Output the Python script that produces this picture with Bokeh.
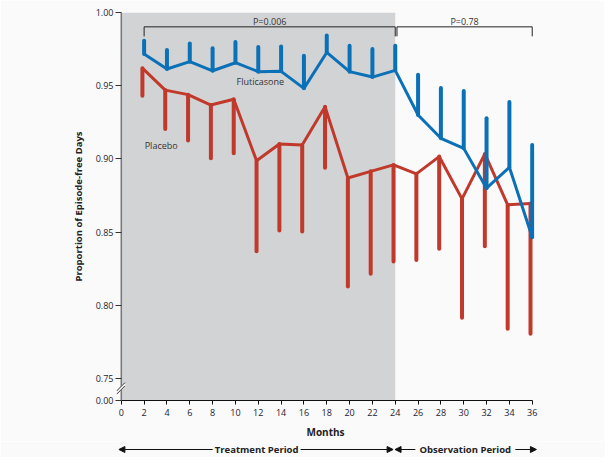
from bokeh.plotting import figure
from bokeh.layouts import column
from bokeh.models import (Range1d, FixedTicker, CustomJSTickFormatter, BoxAnnotation,
                          Arrow, NormalHead, ColumnDataSource)
from bokeh.transform import dodge
from bokeh.core.properties import value
from bokeh.embed import file_html
from bokeh.resources import INLINE

# ---------------- data ----------------
months = [2, 4, 6, 8, 10, 12, 14, 16, 18, 20, 22, 24, 26, 28, 30, 32, 34, 36]
flut_mean = [0.9716, 0.9614, 0.9664, 0.9602, 0.9657, 0.9596, 0.9598, 0.9482, 0.9727,
             0.9596, 0.9559, 0.9605, 0.9300, 0.9141, 0.9072, 0.8800, 0.8943, 0.8465]
flut_upper = [0.9807, 0.9744, 0.9789, 0.9755, 0.9798, 0.9764, 0.9768, 0.9705, 0.9843,
              0.9773, 0.9750, 0.9773, 0.9575, 0.9484, 0.9464, 0.9277, 0.9389, 0.9095]
plac_mean = [0.9620, 0.9470, 0.9439, 0.9368, 0.9407, 0.8988, 0.9102, 0.9095, 0.9357,
             0.8870, 0.8915, 0.8959, 0.8898, 0.9016, 0.8727, 0.9034, 0.8686, 0.8695]
plac_lower = [0.9432, 0.9205, 0.9125, 0.9004, 0.9038, 0.8370, 0.8511, 0.8504, 0.8939,
              0.8129, 0.8215, 0.8300, 0.8310, 0.8386, 0.7915, 0.8404, 0.7840, 0.7806]
x_ticks = list(range(0, 37, 2))
y_ticks = [0.735, 0.75, 0.80, 0.85, 0.90, 0.95, 1.00]   # 0.735 is the broken-axis "0.00"
treatment_end = 24
p_labels = ["P=0.006", "P=0.78"]
p_spans = [(2, 24), (24.15, 36)]
period_labels = ["Treatment Period", "Observation Period"]

BLUE = "#0a70b7"
RED = "#c0392b"
GRAY = "#d2d3d5"
BG = "#fafafa"
FONT = "Open Sans"
TXT = "#333333"

X0, X1 = -0.42, 36.2
Y0, Y1 = 0.735, 1.0
p = figure(frame_width=418, frame_height=388, x_range=Range1d(X0, X1),
           y_range=Range1d(Y0, Y1), output_backend="svg", toolbar_location=None,
           min_border_left=116, min_border_right=70, min_border_top=12, min_border_bottom=40,
           background_fill_color=BG, border_fill_color=BG)
p.outline_line_color = None
p.grid.visible = False

# shaded treatment period
p.add_layout(BoxAnnotation(left=0, right=treatment_end, fill_color=GRAY, fill_alpha=1.0,
                           line_color=None, level="underlay"))

# axes
xa = p.xaxis[0]
xa.ticker = FixedTicker(ticks=x_ticks, minor_ticks=[])
xa.bounds = (0, 36)
xa.axis_label = "Months"
xa.axis_label_text_font = FONT
xa.axis_label_text_font_style = "bold"
xa.axis_label_text_font_size = "10px"
xa.axis_label_text_color = "#222222"
xa.axis_label_standoff = 6
xa.major_label_text_font = FONT
xa.major_label_text_font_size = "9px"
xa.major_label_text_color = "#222233"
xa.major_label_standoff = 4
xa.major_tick_out = 4
xa.major_tick_in = 0
xa.axis_line_color = "#111111"
xa.major_tick_line_color = "#111111"

ya = p.yaxis[0]
ya.ticker = FixedTicker(ticks=y_ticks, minor_ticks=[])
ya.formatter = CustomJSTickFormatter(code="return tick < 0.74 ? '0.00' : tick.toFixed(2);")
ya.axis_label = "Proportion of Episode-free Days"
ya.axis_label_text_font = FONT
ya.axis_label_text_font_style = "bold"
ya.axis_label_text_font_size = "9.5px"
ya.axis_label_text_color = "#222222"
ya.axis_label_standoff = 8
ya.major_label_text_font = FONT
ya.major_label_text_font_size = "9px"
ya.major_label_text_color = "#222233"
ya.major_label_standoff = 2
ya.major_tick_out = 1
ya.major_tick_in = 5
ya.axis_line_color = None
ya.major_tick_line_color = "#333333"

# y axis line drawn at month 0 (the frame starts slightly left of it)
p.segment(x0=[0], y0=[Y0], x1=[0], y1=[Y1], line_color="#777777", line_width=1.5)

# data
src = ColumnDataSource(dict(m=months, fm=flut_mean, fu=flut_upper, pm=plac_mean, pl=plac_lower))
pdx = dodge("m", -0.15, range=p.x_range)
p.segment(x0=pdx, y0="pm", x1=pdx, y1="pl", source=src, line_color=RED, line_width=4,
          line_cap="round")
p.line(x=pdx, y="pm", source=src, line_color=RED, line_width=3)
p.segment(x0="m", y0="fm", x1="m", y1="fu", source=src, line_color=BLUE, line_width=4,
          line_cap="round")
p.line(x="m", y="fm", source=src, line_color=BLUE, line_width=3)

# series labels
p.text(x=[10.1, 2.05], y=[0.9527, 0.9090], text=["Fluticasone", "Placebo"],
       text_font=value(FONT), text_font_size="9px", text_color=TXT,
       text_align="left", text_baseline="middle")

# P-value brackets
top, foot = 0.9902, 0.9837
bx = [[a, a, b, b] for a, b in p_spans]
by = [[foot, top, top, foot] for _ in p_spans]
p.multi_line(xs=bx, ys=by, line_color="#222222", line_width=1)
p.text(x=[(a + b) / 2 for a, b in p_spans], y=[0.9940, 0.9940], text=p_labels,
       text_font=value(FONT), text_font_size="9px", text_color=TXT,
       text_align="center", text_baseline="middle")

# axis break marks
p.segment(x0=[-0.41], y0=[0.7404], x1=[0.32], y1=[0.7461], line_color=BG, line_width=3)
for dy in (0.0, 0.0022):
    p.segment(x0=[-0.41], y0=[0.7393 + dy], x1=[0.32], y1=[0.7450 + dy],
              line_color="#333333", line_width=1)

# ---------------- period arrows strip ----------------
p2 = figure(frame_width=423, frame_height=16, x_range=Range1d(X0, 36.62), y_range=Range1d(0, 1),
            output_backend="svg", toolbar_location=None, x_axis_type=None, y_axis_type=None,
            min_border_left=116, min_border_right=66, min_border_top=0, min_border_bottom=0,
            background_fill_color=BG, border_fill_color=BG)
p2.outline_line_color = None
p2.grid.visible = False

def arrow(x0, x1):
    p2.add_layout(Arrow(x_start=x0, y_start=0.5, x_end=x1, y_end=0.5, line_color="#111111",
                        line_width=1,
                        end=NormalHead(size=6, fill_color="#111111", line_color="#111111")))
arrow(8.0, -0.21)
arrow(15.7, 23.8)
arrow(25.75, 23.97)
arrow(34.5, 36.35)
p2.text(x=[11.85, 30.12], y=[0.5, 0.5], text=period_labels, text_font=value(FONT),
        text_font_size="9.5px", text_font_style="bold", text_color="#222222",
        text_align="center", text_baseline="middle")

open("out.html", "w").write(file_html(column(p, p2, spacing=0), INLINE))
